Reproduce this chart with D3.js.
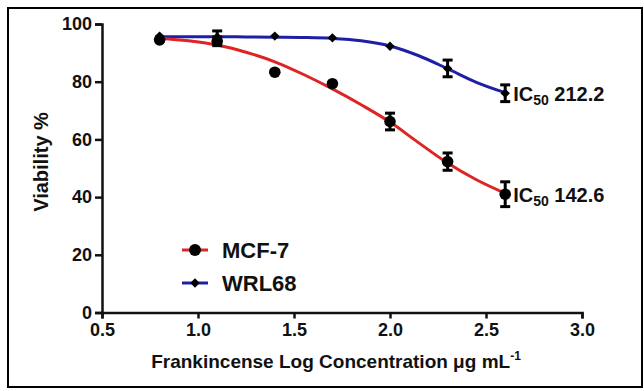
<!DOCTYPE html>
<html>
<head>
<meta charset="utf-8">
<script src="https://cdn.jsdelivr.net/npm/d3@7"></script>
<style>
  body { margin: 0; background: #fff; }
  text { font-family: "Liberation Sans", Arial, sans-serif; font-weight: bold; fill: #111; }
</style>
</head>
<body>
<div id="chart"></div>
<script>
// ---- data ----
var logConc = [0.8, 1.1, 1.4, 1.7, 2.0, 2.3, 2.6];
var mcf7 = [94.5, 94.0, 83.3, 79.3, 66.2, 52.3, 41.0];
var mcf7Err = [0, 1.5, 0, 0, 2.9, 3.0, 4.3];
var wrl68 = [95.8, 95.5, 95.8, 95.2, 92.3, 84.6, 76.0];
var wrl68Err = [0, 2.1, 0, 0, 0, 2.9, 2.9];

// fitted curves
var fitX = [0.8, 0.95, 1.1, 1.25, 1.4, 1.55, 1.7, 1.85, 2.0, 2.15, 2.3, 2.45, 2.6];
var mcf7Fit = [95.0, 94.2, 92.7, 90.2, 86.9, 82.5, 77.5, 72.0, 66.0, 58.8, 51.8, 46.0, 41.3];
var wrl68Fit = [95.6, 95.6, 95.6, 95.5, 95.4, 95.3, 95.0, 94.2, 92.4, 89.0, 84.5, 79.8, 76.2];

var xTicks = [0.5, 1.0, 1.5, 2.0, 2.5, 3.0];
var yTicks = [0, 20, 40, 60, 80, 100];
var seriesNames = ["MCF-7", "WRL68"];
var icLabels = ["142.6", "212.2"];

var W = 644, H = 391;
var red = "#de2424", blue = "#1f1fa6";

var svg = d3.select("#chart").append("svg")
  .attr("width", W).attr("height", H);

// outer frame
svg.append("rect")
  .attr("x", 8).attr("y", 8).attr("width", 634).attr("height", 379)
  .attr("fill", "none").attr("stroke", "#000").attr("stroke-width", 2);

var x = d3.scaleLinear().domain([0.5, 3.0]).range([102, 582]);
var y = d3.scaleLinear().domain([0, 100]).range([312.5, 24]);

// axes
var xAxis = svg.append("g")
  .attr("transform", "translate(0," + y(0) + ")")
  .call(d3.axisBottom(x).tickValues(xTicks).tickFormat(d3.format(".1f")).tickSize(6).tickPadding(5));
var yAxis = svg.append("g")
  .attr("transform", "translate(" + x(0.5) + ",0)")
  .call(d3.axisLeft(y).tickValues(yTicks).tickSize(7).tickPadding(3));

[xAxis, yAxis].forEach(function (g) {
  g.select(".domain").attr("stroke", "#111").attr("stroke-width", 2.5);
  g.selectAll(".tick line").attr("stroke", "#111").attr("stroke-width", 2.5);
  g.selectAll("text").style("font-size", "18px").attr("fill", "#111");
});

// axis titles
var xt = svg.append("text")
  .attr("x", 336).attr("y", 368)
  .attr("text-anchor", "middle")
  .style("font-size", "19px");
xt.append("tspan").text("Frankincense Log Concentration \u03bcg mL");
xt.append("tspan").attr("dy", -8).style("font-size", "12px").text("-1");

svg.append("text")
  .attr("transform", "translate(48,162) rotate(-90)")
  .attr("text-anchor", "middle")
  .style("font-size", "20px")
  .text("Viability %");

// fitted curves
var line = d3.line()
  .x(function (d) { return x(d[0]); })
  .y(function (d) { return y(d[1]); })
  .curve(d3.curveMonotoneX);

svg.append("path")
  .datum(d3.zip(fitX, wrl68Fit))
  .attr("d", line).attr("fill", "none")
  .attr("stroke", blue).attr("stroke-width", 3);
svg.append("path")
  .datum(d3.zip(fitX, mcf7Fit))
  .attr("d", line).attr("fill", "none")
  .attr("stroke", red).attr("stroke-width", 3);

// error bars
function errorBars(vals, errs) {
  var g = svg.append("g").attr("stroke", "#000").attr("stroke-width", 3);
  logConc.forEach(function (c, i) {
    if (!errs[i]) return;
    var cx = x(c), top = y(vals[i] + errs[i]), bot = y(vals[i] - errs[i]);
    g.append("line").attr("x1", cx).attr("x2", cx).attr("y1", top).attr("y2", bot);
    g.append("line").attr("x1", cx - 5).attr("x2", cx + 5).attr("y1", top).attr("y2", top);
    g.append("line").attr("x1", cx - 5).attr("x2", cx + 5).attr("y1", bot).attr("y2", bot);
  });
}
errorBars(wrl68, wrl68Err);
errorBars(mcf7, mcf7Err);

// markers (diamond = square turned 45deg)
var diamond = d3.symbol().type(d3.symbolSquare).size(44);
svg.append("g").selectAll("path")
  .data(d3.zip(logConc, wrl68))
  .join("path")
  .attr("d", diamond)
  .attr("transform", function (d) { return "translate(" + x(d[0]) + "," + y(d[1]) + ") rotate(45)"; })
  .attr("fill", "#000");

svg.append("g").selectAll("circle")
  .data(d3.zip(logConc, mcf7))
  .join("circle")
  .attr("cx", function (d) { return x(d[0]); })
  .attr("cy", function (d) { return y(d[1]); })
  .attr("r", 5.8)
  .attr("fill", "#000");

// IC50 labels
var lastI = logConc.length - 1;
[mcf7, wrl68].forEach(function (vals, k) {
  var t = svg.append("text")
    .attr("x", x(logConc[lastI]) + 8)
    .attr("y", y(vals[lastI]) + 8)
    .style("font-size", "20px");
  t.append("tspan").text("IC");
  t.append("tspan").attr("dy", 4).style("font-size", "14px").text("50");
  t.append("tspan").attr("dy", -4).text(" " + icLabels[k]);
});

// legend
var legend = svg.append("g");
var colors = [red, blue];
seriesNames.forEach(function (name, i) {
  var ly = 250 + i * 33;
  legend.append("line")
    .attr("x1", 182).attr("x2", 208).attr("y1", ly).attr("y2", ly)
    .attr("stroke", colors[i]).attr("stroke-width", 3);
  if (i === 0) {
    legend.append("circle").attr("cx", 195).attr("cy", ly).attr("r", 6).attr("fill", "#000");
  } else {
    legend.append("path").attr("d", diamond).attr("transform", "translate(195," + ly + ") rotate(45)").attr("fill", "#000");
  }
  legend.append("text")
    .attr("x", 222).attr("y", ly + 8)
    .style("font-size", "22px")
    .text(name);
});
</script>
</body>
</html>
